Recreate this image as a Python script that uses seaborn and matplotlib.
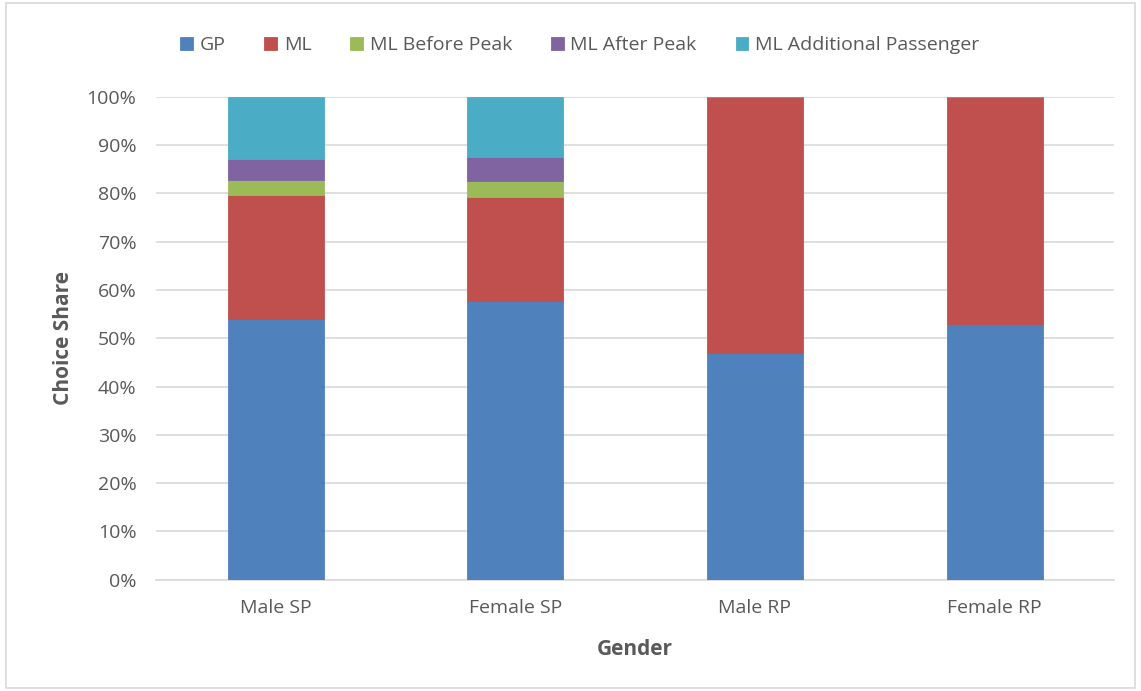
import pandas as pd
import seaborn as sns
import matplotlib.pyplot as plt
from matplotlib.patches import Rectangle
from matplotlib.ticker import PercentFormatter

sns.set_theme(style="white")
plt.rcParams['font.family'] = ['Open Sans', 'DejaVu Sans']

# ==========================================
# DATA (choice share, %)
# ==========================================
groups = ['Male SP', 'Female SP', 'Male RP', 'Female RP']
gp = [54.0, 57.7, 46.9, 52.9]
ml = [25.6, 21.6, 53.1, 47.1]
ml_before = [3.2, 3.3, 0.0, 0.0]
ml_after = [4.4, 4.9, 0.0, 0.0]
ml_extra = [12.8, 12.5, 0.0, 0.0]

series_names = ['GP', 'ML', 'ML Before Peak', 'ML After Peak', 'ML Additional Passenger']
series_vals = [gp, ml, ml_before, ml_after, ml_extra]
colors = ['#4F81BD', '#C0504D', '#9BBB59', '#8064A2', '#4BACC6']

grey = '#595959'

fig = plt.figure(figsize=(11.41, 6.91), dpi=100)
ax = fig.add_axes([0.1367, 0.161, 0.840, 0.699])

bottom = [0.0] * len(groups)
for name, vals, col in zip(series_names, series_vals, colors):
    df = pd.DataFrame({'Group': groups, 'Share': vals})
    sns.barplot(data=df, x='Group', y='Share', color=col, width=0.4,
                saturation=1, bottom=bottom, ax=ax, label=name,
                edgecolor=col, linewidth=0.6, zorder=3, legend=False)
    bottom = [b + v for b, v in zip(bottom, vals)]

if ax.get_legend() is not None:
    ax.get_legend().remove()

ax.set_ylim(0, 100)
ax.set_yticks(range(0, 101, 10))
ax.yaxis.set_major_formatter(PercentFormatter(decimals=0))
ax.grid(axis='y', color='#D9D9D9', linewidth=1.2, zorder=0)
for s in ['top', 'right', 'left']:
    ax.spines[s].set_visible(False)
ax.spines['bottom'].set_color('#D9D9D9')
ax.spines['bottom'].set_linewidth(1.2)
ax.tick_params(axis='y', colors=grey, labelsize=14, length=0, pad=14)
ax.tick_params(axis='x', colors=grey, labelsize=14, length=0, pad=14)

ax.set_xlabel('Gender', fontsize=15, fontweight='bold', color=grey, labelpad=16)
ax.set_ylabel('Choice Share', fontsize=15, fontweight='bold', color=grey, labelpad=9)

handles, labels = ax.get_legend_handles_labels()
fig.legend(handles, labels, loc='center', bbox_to_anchor=(0.508, 0.935), ncol=5,
           frameon=False, fontsize=14, handlelength=0.65, handleheight=0.65,
           handletextpad=0.35, columnspacing=2.0, labelcolor=grey)

# light outer frame
fig.patches.append(Rectangle((0.005, 0.005), 0.99, 0.99, transform=fig.transFigure,
                             fill=False, edgecolor='#D9D9D9', linewidth=1.2))

plt.savefig('out.png', dpi=100)
